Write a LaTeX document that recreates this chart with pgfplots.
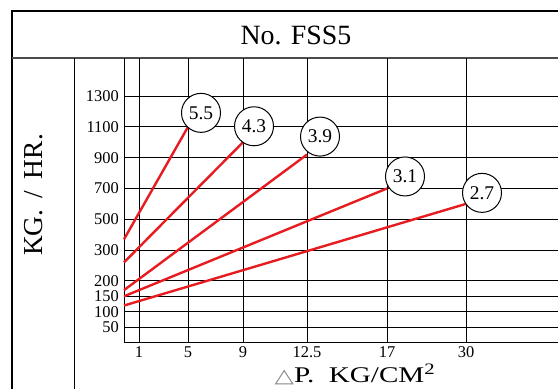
\documentclass[border=0pt]{standalone}
\usepackage{pgfplots}
\pgfplotsset{compat=1.18}
\usepackage{fontspec}
\setmainfont{Liberation Serif}
\newfontfamily\dejavu{DejaVu Sans}
\definecolor{redline}{RGB}{230,28,32}
\begin{document}
\begin{tikzpicture}[x=1bp,y=1bp]
\useasboundingbox (0,0) rectangle (558,388);
% frame of the table
\draw[line width=2.5bp] (12,-5) -- (12,377) -- (620,377);
\draw[line width=1.6bp, black!70] (12,330) -- (620,330);
\draw[line width=1bp] (74,330) -- (74,-5);
\node[font=\fontsize{28}{32}\selectfont, inner sep=0pt] at (296,353) {No. FSS5};
\node[rotate=90, font=\fontsize{27.5}{30}\selectfont, inner sep=0pt] at (34,193) {KG.\ \,/\ \,HR.};
\node[anchor=base, xscale=1.3, font=\fontsize{22.5}{26}\selectfont, inner sep=0pt] at (355,6)
  {{\dejavu\color{black!45}\fontsize{19.5}{22}\selectfont △}P.\ \ KG/CM\textsuperscript{\fontsize{16}{16}\selectfont 2}};
\begin{axis}[
  at={(124bp,45.5bp)}, anchor=south west,
  scale only axis, width=434bp, height=284.5bp,
  x coord trafo/.code={\pgfmathparse{#1<=1 ? 15*#1 : (#1<=5 ? 15+(#1-1)*12.25 : (#1<=9 ? 64+(#1-5)*13.75 : (#1<=12.5 ? 119+(#1-9)*18.2857 : (#1<=17 ? 183+(#1-12.5)*17.7778 : 263+(#1-17)*6.0769))))}},
  y coord trafo/.code={\pgfmathparse{#1<=300 ? #1/50 : 6+(#1-300)/100}},
  xmin=0, xmax=45.14, ymin=0, ymax=1547,
  enlargelimits=false,
  xtick={1,5,9,12.5,17,30},
  xticklabels={1,5,9,12.5,17,30},
  ytick={50,100,150,200,300,500,700,900,1100,1300},
  yticklabels={50,100,150,200,300,500,700,900,1100,1300},
  major tick length=0pt,
  grid=major,
  major grid style={black, line width=0.8bp},
  axis lines=left,
  axis line style={-, black, line width=1bp},
  tick label style={font=\fontsize{16.5}{17}\selectfont, inner sep=0pt},
  /pgf/number format/assume math mode=true,
  xticklabel style={yshift=-4bp},
  yticklabel style={xshift=-5bp},
  clip=false,
]
\addplot[redline, line width=2.4bp] coordinates {(0,370) (5,1100)};
\addplot[redline, line width=2.4bp] coordinates {(0,260) (9,1000)};
\addplot[redline, line width=2.4bp] coordinates {(0,170) (12.5,920)};
\addplot[redline, line width=2.4bp] coordinates {(0,150) (17,700)};
\addplot[redline, line width=2.4bp] coordinates {(0,120) (30,600)};
\tikzset{circ/.style={circle, draw=black, line width=1bp, fill=white, minimum size=39bp, inner sep=0pt, font=\fontsize{19.5}{20}\selectfont}}
\node[circ, xshift=13bp, yshift=14bp] at (axis cs:5,1100) {5.5};
\node[circ, xshift=11bp, yshift=16bp] at (axis cs:9,1000) {4.3};
\node[circ, xshift=13bp, yshift=18bp] at (axis cs:12.5,920) {3.9};
\node[circ, xshift=18bp, yshift=12bp] at (axis cs:17,700) {3.1};
\node[circ, xshift=16bp, yshift=11bp] at (axis cs:30,600) {2.7};
\end{axis}
\end{tikzpicture}
\end{document}
